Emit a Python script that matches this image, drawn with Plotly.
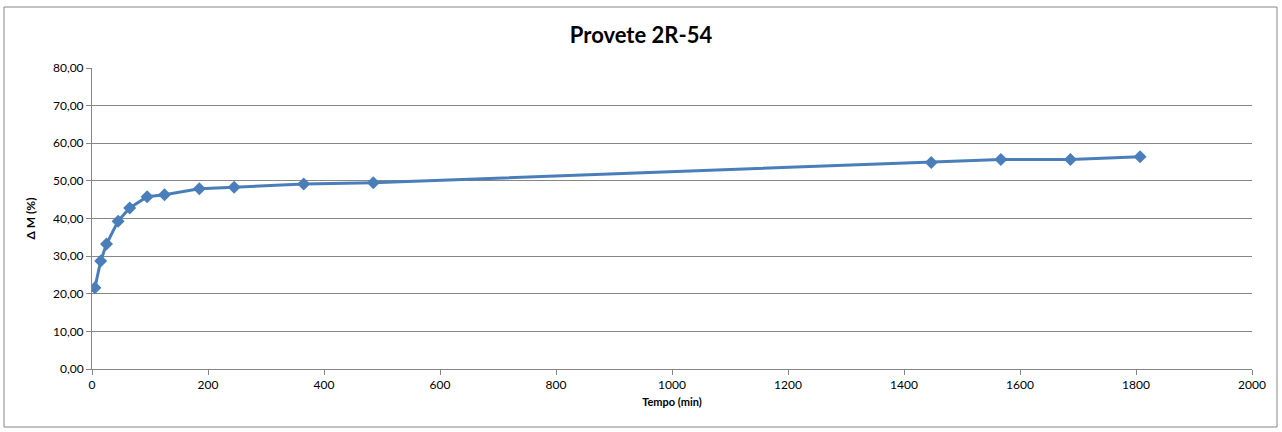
import plotly.graph_objects as go

tempo = [5, 15, 25, 45, 65, 95, 125, 185, 245, 365, 485, 1447, 1567, 1687, 1807]
delta_m = [21.6, 28.7, 33.2, 39.3, 42.8, 45.8, 46.3, 47.9, 48.3, 49.2, 49.5, 54.9, 55.7, 55.7, 56.4]

FONT = "Lato"
blue = "#4A7EBB"

fig = go.Figure()
fig.add_trace(go.Scatter(
    x=tempo, y=delta_m, mode="lines+markers",
    line=dict(color=blue, width=3),
    marker=dict(symbol="diamond", size=10, color=blue),
    showlegend=False,
))

W, H = 1282, 432
L, R, T, B = 92, 30, 68, 63
pw, ph = W - L - R, H - T - B

fig.update_layout(
    width=W, height=H,
    margin=dict(l=L, r=R, t=T, b=B),
    paper_bgcolor="white", plot_bgcolor="white",
    separators=", ",
    font=dict(family=FONT, size=11, color="#000000"),
    title=dict(text="<b>Provete 2R-54</b>", x=0.5, xanchor="center",
               y=1 - 35 / H, yanchor="middle",
               font=dict(family=FONT, size=22, color="#000000")),
    xaxis=dict(range=[0, 2000], dtick=200, tick0=0,
               showgrid=False, zeroline=False,
               showline=True, linecolor="#868686", linewidth=1,
               ticks="outside", ticklen=5, tickcolor="#868686",
               tickfont=dict(size=12),
               title=dict(text="<b>Tempo (min)</b>", font=dict(size=11), standoff=6)),
    yaxis=dict(range=[0, 80], dtick=10, tick0=0, tickformat=".2f",
               showgrid=True, gridcolor="#868686", gridwidth=1,
               zeroline=False,
               showline=True, linecolor="#868686", linewidth=1,
               ticks="outside", ticklen=5, tickcolor="#868686",
               tickfont=dict(size=12),
               title=dict(text="<b>Δ M (%)</b>", font=dict(size=12), standoff=14)),
)

fig.add_shape(type="rect", xref="paper", yref="paper",
              x0=(4 - L) / pw, x1=(1277 - L) / pw,
              y0=(H - B - 427) / ph, y1=(H - B - 7) / ph,
              line=dict(color="#868686", width=1), layer="below")

fig.write_html("out.html", config={"displayModeBar": False},
               post_script="document.body.style.margin='0';")
